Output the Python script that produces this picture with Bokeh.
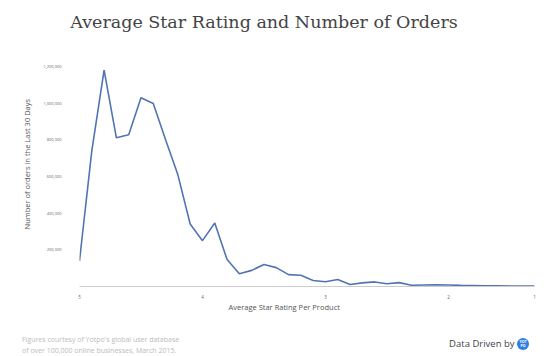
from bokeh.plotting import figure
from bokeh.models import (Range1d, FixedTicker, NumeralTickFormatter, Title,
                          ColumnDataSource, Div)
from bokeh.layouts import column, row
from bokeh.embed import file_html
from bokeh.resources import INLINE

# ---- data ----
ratings = ["5", "4.9", "4.8", "4.7", "4.6", "4.5", "4.4", "4.3", "4.2", "4.1",
           "4", "3.9", "3.8", "3.7", "3.6", "3.5", "3.4", "3.3", "3.2", "3.1",
           "3", "2.9", "2.8", "2.7", "2.6", "2.5", "2.4", "2.3", "2.2", "2.1",
           "2", "1.9", "1.8", "1.7", "1.6", "1.5", "1.4", "1"]
orders = [140000, 740000, 1180000, 811000, 828000, 1029000, 998000, 800000,
          609000, 341000, 250000, 346000, 147000, 69000, 88000, 120000, 103000,
          65000, 61000, 33000, 26000, 38000, 11000, 20000, 25000, 15000, 21000,
          7000, 8000, 9000, 8000, 6000, 5000, 4000, 4000, 3000, 3000, 2000]
x_tick_labels = ["5", "4", "3", "2", "1"]
y_ticks = [200000, 400000, 600000, 800000, 1000000, 1200000]

title_text = "Average Star Rating and Number of Orders"
x_title = "Average Star Rating Per Product"
y_title = "Number of orders in the Last 30 Days"
footer_lines = ["Figures courtesy of Yotpo's global user database",
                "of over 100,000 online businesses, March 2015."]
brand_text = "Data Driven by"

pos = list(range(len(ratings)))
source = ColumnDataSource(dict(x=pos, y=orders, rating=ratings))

# ---- title ----
title_div = Div(text=title_text, width=553, height=40, margin=0,
                styles={"font-family": "'DejaVu Serif'", "font-size": "17.5px",
                        "line-height": "22px", "color": "#444444",
                        "text-align": "center", "padding-right": "25px",
                        "padding-top": "11px", "box-sizing": "border-box",
                        "white-space": "nowrap", "width": "553px"})

# ---- chart ----
p = figure(width=553, height=282, output_backend="svg", toolbar_location=None,
           x_range=Range1d(0, len(ratings) - 1), y_range=Range1d(0, 1200000),
           min_border_left=79, min_border_right=19, min_border_top=26,
           min_border_bottom=36)
p.title.text = ""
p.background_fill_color = "white"
p.border_fill_color = "white"
p.outline_line_color = None
p.xgrid.grid_line_color = None
p.ygrid.grid_line_color = None

p.line("x", "y", source=source, line_color="#5274b2", line_width=1.6)

# x axis
tick_pos = [ratings.index(t) for t in x_tick_labels]
p.xaxis.ticker = FixedTicker(ticks=tick_pos)
p.xaxis.major_label_overrides = {i: t for i, t in zip(tick_pos, x_tick_labels)}
p.xaxis.axis_line_color = "#cccccc"
p.xaxis.major_tick_line_color = None
p.xaxis.minor_tick_line_color = None
p.xaxis.major_label_standoff = 2
p.xaxis.major_label_text_font = "Open Sans"
p.xaxis.major_label_text_font_size = "4.5px"
p.xaxis.major_label_text_color = "#666666"

# y axis
p.yaxis.ticker = FixedTicker(ticks=y_ticks)
p.yaxis.formatter = NumeralTickFormatter(format="0,0")
p.yaxis.axis_line_color = None
p.yaxis.major_tick_line_color = None
p.yaxis.minor_tick_line_color = None
p.yaxis.major_label_standoff = 12
p.yaxis.major_label_text_font = "Open Sans"
p.yaxis.major_label_text_font_size = "4px"
p.yaxis.major_label_text_color = "#666666"

# axis titles
p.add_layout(Title(text=x_title, align="left", offset=149, standoff=1,
                   vertical_align="top", text_font="Open Sans",
                   text_font_size="7.5px", text_font_style="normal",
                   text_color="#555555"), "below")
p.add_layout(Title(text=y_title, align="left", offset=57, standoff=18,
                   text_font="Open Sans", text_font_size="7.5px",
                   text_font_style="normal", text_color="#555555"), "left")

# ---- footer ----
footer = Div(text="<br>".join(footer_lines), width=300, height=34, margin=0,
             styles={"font-family": "'Open Sans'", "font-size": "7px",
                     "line-height": "10.5px", "color": "#bbbbbb",
                     "padding-left": "22px", "padding-top": "13px",
                     "box-sizing": "border-box", "white-space": "nowrap"})
brand = Div(text=brand_text + ' <span style="display:inline-block;width:12px;'
            'height:12px;border-radius:6px;background:#2f7fe0;color:white;'
            'font-size:3.5px;line-height:4px;text-align:center;'
            'vertical-align:middle;font-weight:bold;padding-top:2px;'
            'box-sizing:border-box;">YOT<br>PO</span>',
            width=253, height=34, margin=0,
            styles={"font-family": "'Open Sans'", "font-size": "9.5px",
                    "color": "#444444", "text-align": "right",
                    "padding-right": "24px", "padding-top": "16px",
                    "box-sizing": "border-box", "white-space": "nowrap",
                    "line-height": "12px"})
layout = column(title_div, p, row(footer, brand, spacing=0), spacing=0)

open("out.html", "w").write(file_html(layout, INLINE))
